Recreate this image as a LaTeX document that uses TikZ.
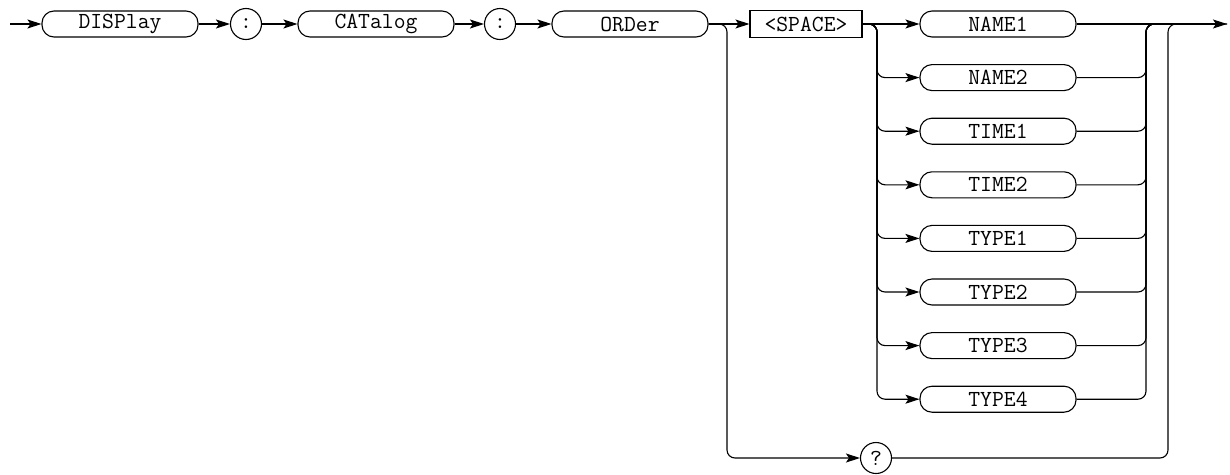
\documentclass[tikz,border=0pt]{standalone}
\usepackage{fontspec}
\usetikzlibrary{arrows.meta}

\tikzset{
  kword/.style = {draw, rectangle, rounded corners=12pt, minimum width=156pt,
    minimum height=26pt, inner sep=0pt, font=\fontsize{23}{23}\ttfamily},
  argbox/.style = {draw, rectangle, minimum width=112pt, minimum height=27pt,
    inner sep=0pt, font=\fontsize{23}{23}\ttfamily},
  sepchar/.style = {draw, circle, minimum size=31pt, inner sep=0pt,
    font=\fontsize{23}{23}\ttfamily},
  flow/.style = {-{Stealth[length=14pt,width=9pt,inset=3pt]}},
  bendline/.style = {rounded corners=8pt}
}

\begin{document}
\begin{tikzpicture}[x=1pt, y=-1pt, line width=1.1pt]
  \useasboundingbox (0,0) rectangle (1230,474);
  % main path
  \coordinate (start) at (10,24);
  \node [kword] (display) at (120,24) {DISPlay};
  \node [sepchar] (colA) at (246,24) {:};
  \node [kword] (catalog) at (376,24) {CATalog};
  \node [sepchar] (colB) at (500,24) {:};
  \node [kword] (order) at (630,24) {ORDer};
  \node [argbox] (space) at (806,24) {<SPACE>};
  \coordinate (finish) at (1227,24);
  \draw [flow] (start) -- (display);
  \draw [flow] (display) -- (colA);
  \draw [flow] (colA) -- (catalog);
  \draw [flow] (catalog) -- (colB);
  \draw [flow] (colB) -- (order);
  \draw [flow] (order) -- (space);
  % branch points
  \coordinate (qsplit) at (727,24);
  \coordinate (osplit) at (877,24);
  \coordinate (ojoin) at (1146,24);
  \coordinate (qjoin) at (1168,24);
  % query form
  \node [sepchar] (query) at (876,458) {?};
  \draw [flow, bendline] (order.east) -- (qsplit) |- (query);
  \draw [bendline] (query) -| (qjoin) -- (finish);
  % choices
  \foreach \word [count=\i from 0] in {NAME1,NAME2,TIME1,TIME2,TYPE1,TYPE2,TYPE3,TYPE4}
    \node [kword] (opt\i) at (998,24+53.6*\i) {\word};
  \draw [flow] (space) -- (opt0);
  \draw [flow] (opt0) -- (finish);
  \foreach \i in {1,...,7} {
    \draw [flow, bendline] (space.east) -- (osplit) |- (opt\i);
    \draw [bendline] (opt\i) -| (ojoin) -- (qjoin);
  }
\end{tikzpicture}
\end{document}
